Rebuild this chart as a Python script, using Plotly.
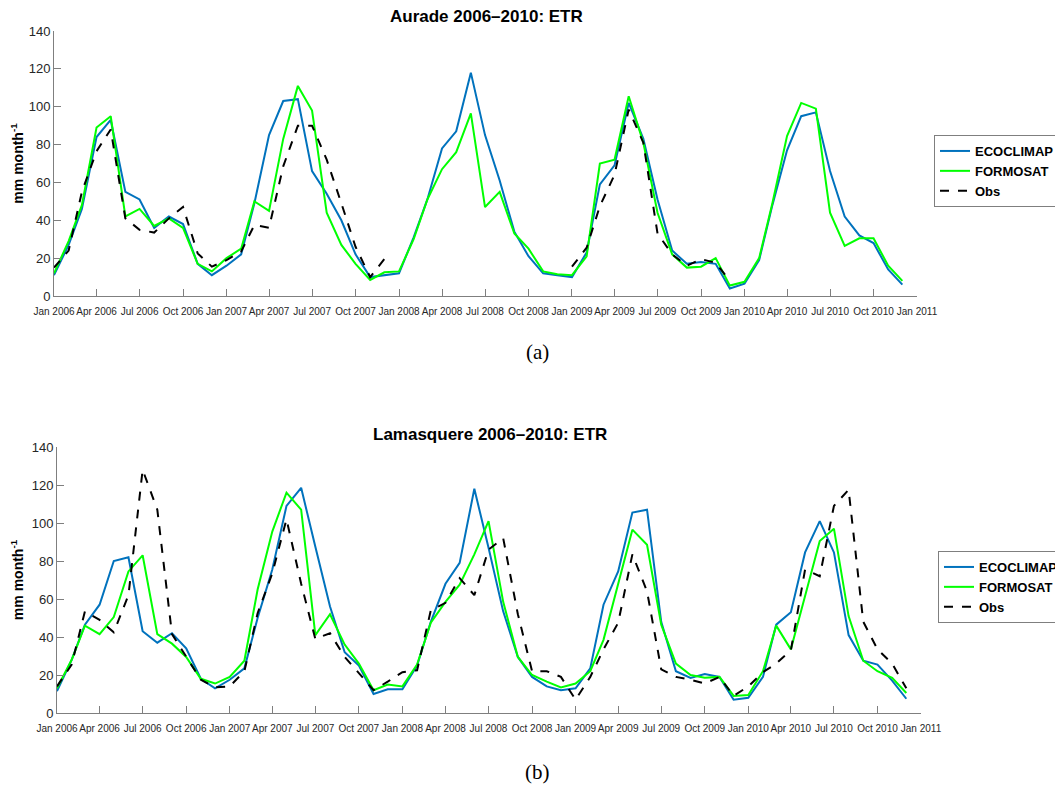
import plotly.graph_objects as go
import pandas as pd

months = pd.date_range("2006-01-01", "2010-12-01", freq="MS").strftime("%Y-%m-%d").tolist()

tick_dates = pd.date_range("2006-01-01", "2011-01-01", freq="3MS").strftime("%Y-%m-%d").tolist()
tick_labels = [pd.Timestamp(d).strftime("%b %Y") for d in tick_dates]

# Aurade
aur_ecoclimap = [11, 27, 46, 84, 93, 55, 51, 36, 42, 38, 17, 11,
                 16, 22, 49, 85, 103, 104, 66, 54, 40, 22, 10, 11,
                 12, 31, 51, 78, 87, 118, 85, 61, 34, 21, 12, 11,
                 10, 23, 59, 69, 102, 83, 51, 24, 17, 18, 17, 4,
                 6.5, 19, 48, 77, 95, 97, 66, 42, 32, 28, 14, 6]
aur_formosat = [12, 29, 48, 89, 95, 42, 46, 37, 41, 36, 17, 13,
                20, 25, 50, 45, 83, 111, 98, 44, 27, 17, 8.5, 12.5,
                13, 30, 51, 67, 76, 96.5, 47, 55, 33, 25, 13, 11.5,
                11, 21, 70, 72, 105.5, 81, 44, 22, 15, 15.5, 20, 5.5,
                7.5, 20, 49, 84.5, 102, 99, 44, 26.5, 30.5, 30.5, 16, 8]
aur_obs = [15, 24, 55, 76.5, 88, 41, 35, 33.5, 41, 47, 22.5, 15.5,
           19, 23.5, 37.5, 36, 68.5, 90, 90, 72, 49, 26, 10, 19.5,
           None, None, None, None, None, None, None, None, None, None, None, None,
           15.5, 25.5, 47.5, 64, 98.5, 81, 33, 22, 16, 19.5, 17.5, 8,
           None, None, None, None, None, None, None, None, None, None, None, None]

# Lamasquere
lam_ecoclimap = [11.5, 28, 46.5, 57, 80, 82, 43, 37, 42, 34, 18, 13,
                 17.5, 23.5, 50, 75.5, 109, 118.5, 87.5, 56, 32, 25,
                 10, 12.5, 12.5, 25, 48, 68, 79, 118, 87, 53.5, 29.5, 19, 14, 12,
                 13, 23.5, 57, 74.5, 105.5, 107, 48, 22, 18.5, 20.5, 19, 7,
                 8, 19, 46.5, 53, 84.5, 101, 84.5, 41, 27.5, 25.5, 17, 7.5]
lam_formosat = [13, 28, 46, 41.5, 50.5, 74.5, 83, 41.5, 36.5, 29.5, 18, 15.5,
                19, 27.5, 65, 95.5, 116, 107, 41, 52, 36, 26,
                12, 15, 14, 25.5, 47.5, 58.5, 67.5, 83.5, 101, 58.5, 29.5, 20, 16.5, 13.5,
                15.5, 22, 38.5, 68, 96.5, 88.5, 46.5, 26, 20, 18.5, 19, 9,
                9.5, 22, 46, 33.5, 62, 90.5, 97, 51, 27.5, 22, 18.5, 10.5]
lam_obs = [14, 25.5, 53.5, 49, 42.5, 62, 128, 107, 41.5, 29.5, 17.5, 13.5,
           14, 22, 52.5, 73.5, 102, 68, 39, 42, 29.5, 21,
           12, 16.5, 21.5, 22.5, 54, 58, 71, 62, 86, 92, 52, 22, 22, 19,
           7, 19, 33.5, 47.5, 83.5, 64, 23, 19, 17.5, 15.5, 19, 9,
           14, 21.5, 26, 33, 75.5, 72, 109, 117.5, 48, 33.5, 26, 13]

BLUE = "#0072BD"
GREEN = "#00FF00"
AXIS_GRAY = "#7f7f7f"
TEXT_GRAY = "#262626"

fig = go.Figure()

def add_series(xref, yref, legend, eco, form, obs):
    fig.add_trace(go.Scatter(x=months, y=eco, name="ECOCLIMAP", mode="lines",
                             line=dict(color=BLUE, width=2), xaxis=xref, yaxis=yref,
                             legend=legend))
    fig.add_trace(go.Scatter(x=months, y=form, name="FORMOSAT", mode="lines",
                             line=dict(color=GREEN, width=2), xaxis=xref, yaxis=yref,
                             legend=legend))
    fig.add_trace(go.Scatter(x=months, y=obs, name="Obs", mode="lines",
                             line=dict(color="black", width=2, dash="dash"),
                             connectgaps=False, xaxis=xref, yaxis=yref, legend=legend))

add_series("x", "y", "legend", aur_ecoclimap, aur_formosat, aur_obs)
add_series("x2", "y2", "legend2", lam_ecoclimap, lam_formosat, lam_obs)

# page has an 8px body margin: figure is shifted by (8, 8)
OFF = 8
W, H = 1063 - OFF, 786 - OFF

def px_x(p):
    return (p - OFF) / W

def px_y(p):
    return 1 - (p - OFF) / H

xaxis_common = dict(
    type="date", range=["2006-01-01", "2011-01-01"], automargin=False,
    tickmode="array", tickvals=tick_dates, ticktext=tick_labels, tickangle=0,
    ticks="inside", ticklen=7, tickcolor=AXIS_GRAY, tickwidth=1,
    ticklabelstandoff=6,
    showline=True, linecolor=AXIS_GRAY, linewidth=1,
    showgrid=False, zeroline=False,
    tickfont=dict(family="Liberation Sans Narrow, Liberation Sans, Arial", size=10, color=TEXT_GRAY),
)
yaxis_common = dict(
    range=[0, 140], dtick=20, tick0=0, automargin=False,
    ticks="inside", ticklen=7, tickcolor=AXIS_GRAY, tickwidth=1,
    showline=True, linecolor=AXIS_GRAY, linewidth=1,
    showgrid=False, zeroline=False,
    tickfont=dict(family="Liberation Sans, Arial", size=13, color=TEXT_GRAY),
    title=dict(text="<b>mm month<sup>-1</sup></b>", standoff=8,
               font=dict(family="Liberation Sans, Arial", size=14, color="black")),
)

legend_common = dict(
    bgcolor="white", bordercolor=AXIS_GRAY, borderwidth=1,
    font=dict(family="Liberation Sans, Arial", size=13, color="black", weight="bold"),
    xanchor="left", yanchor="top", tracegroupgap=0, itemwidth=30,
)

fig.update_layout(
    width=W, height=H,
    margin=dict(l=0, r=0, t=0, b=0, autoexpand=False),
    plot_bgcolor="white", paper_bgcolor="white",
    xaxis=dict(domain=[px_x(54), px_x(917)], anchor="y", **xaxis_common),
    yaxis=dict(domain=[px_y(296), px_y(31)], anchor="x", **yaxis_common),
    xaxis2=dict(domain=[px_x(57), px_x(921)], anchor="y2", **xaxis_common),
    yaxis2=dict(domain=[px_y(713), px_y(447)], anchor="x2", **yaxis_common),
    legend=dict(x=px_x(934), y=px_y(135), **legend_common),
    legend2=dict(x=px_x(938), y=px_y(551), **legend_common),
    showlegend=True,
)

annots = [
    dict(text="<b>Aurade 2006\u20132010: ETR</b>", x=px_x(486), y=px_y(17)),
    dict(text="<b>Lamasquere 2006\u20132010: ETR</b>", x=px_x(490), y=px_y(434)),
]
for a in annots:
    fig.add_annotation(text=a["text"], x=a["x"], y=a["y"], xref="paper", yref="paper",
                       showarrow=False, xanchor="center", yanchor="middle",
                       font=dict(family="Liberation Sans, Arial", size=17, color="black"))

for label, yy in [("(a)", 352), ("(b)", 772)]:
    fig.add_annotation(text=label, x=px_x(537), y=px_y(yy), xref="paper", yref="paper",
                       showarrow=False, xanchor="center", yanchor="middle",
                       font=dict(family="Liberation Serif, Times New Roman", size=21, color="black"))

fig.write_html("out.html")
